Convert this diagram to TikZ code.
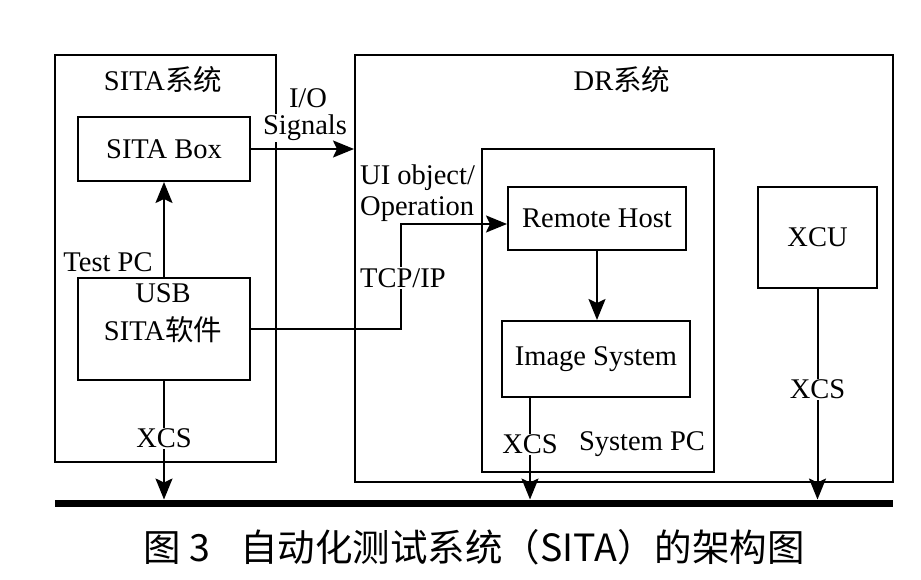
\documentclass[tikz,border=0pt]{standalone}
\usepackage{fontspec}
\setmainfont{Liberation Serif}
\newfontfamily\cjk{Noto Sans CJK SC}
\usetikzlibrary{shapes,arrows.meta}
\tikzstyle{bx}=[draw=black,line width=2pt,inner sep=0pt]
\tikzstyle{lb}=[font=\fontsize{28.5}{31}\selectfont,inner sep=1pt]
\tikzstyle{lw}=[lb,fill=white]
\tikzstyle{ln}=[line width=2pt]
\tikzstyle{ar}=[line width=2pt,-{Stealth[length=21pt,width=17pt,inset=4pt]}]

\begin{document}
\begin{tikzpicture}[x=1pt,y=-1pt]
\useasboundingbox (0,0) rectangle (921,580);
\node[bx,minimum width=221pt,minimum height=407pt] (sita) at (165.5,258.5) {};
\node[bx,minimum width=538pt,minimum height=427pt] (dr) at (624,268.5) {};
\node[bx,minimum width=232pt,minimum height=323pt] (spc) at (598,310.5) {};
\node[bx,lb,minimum width=172pt,minimum height=64pt] (box) at (164,149) {SITA Box};
\node[bx,minimum width=172pt,minimum height=102pt] (sw) at (164,329) {};
\node[bx,lb,minimum width=178pt,minimum height=63pt] (host) at (597,218.5) {Remote Host};
\node[bx,lb,minimum width=188pt,minimum height=76pt] (img) at (596,359) {Image System};
\node[bx,lb,minimum width=119pt,minimum height=101pt] (xcu) at (817.5,237.5) {XCU};
\node[lb] (sitat) at (163,80) {SITA{\cjk 系统}};
\node[lb] (drt) at (622,80) {DR{\cjk 系统}};
\node[lb] (usb) at (163,293) {USB};
\node[lb] (swt) at (163,330) {SITA{\cjk 软件}};
\node[lb] (tpc) at (108,262) {Test PC};
\node[lb] (io) at (308,98) {I/O};
\node[lw] (sig) at (305,128) {Signals};
\node[lb,anchor=west] (ui) at (359,178) {UI object/};
\node[lb,anchor=west] (op) at (359,209) {Operation};
\node[lb] (spct) at (642,444) {System PC};
\coordinate (bend) at (401,224);
\coordinate (busL) at (55,503);
\coordinate (busR) at (893,503);
\draw[line width=7pt] (busL) -- (busR);
\draw[ar] (sw.north) -- (box.south);
\draw[ar] (box.east) -- (box.east -| dr.west);
\draw[ar] (sw.east) -| (bend) -- (bend -| host.west);
\node[lw,anchor=west] (tcp) at (359,278) {TCP/IP};
\draw[ar] (host.south) -- (host.south |- img.north);
\draw[ar,shorten >=3.5pt] (sw.south) -- node[lw,pos=0.47] (x1) {XCS} (sw.south |- busL);
\draw[ar,shorten >=3.5pt] ([xshift=-66pt]img.south) -- node[lw,pos=0.44] (x2) {XCS} ([xshift=-66pt]img.south |- busL);
\draw[ar,shorten >=3.5pt] (xcu.south) -- node[lw,pos=0.47] (x3) {XCS} (xcu.south |- busL);
\node[font=\cjk\fontsize{37.5}{40}\selectfont] (cap) at (474,547) {图~3\hspace{0.8em}自动化测试系统（SITA）的架构图};
\end{tikzpicture}
\end{document}
